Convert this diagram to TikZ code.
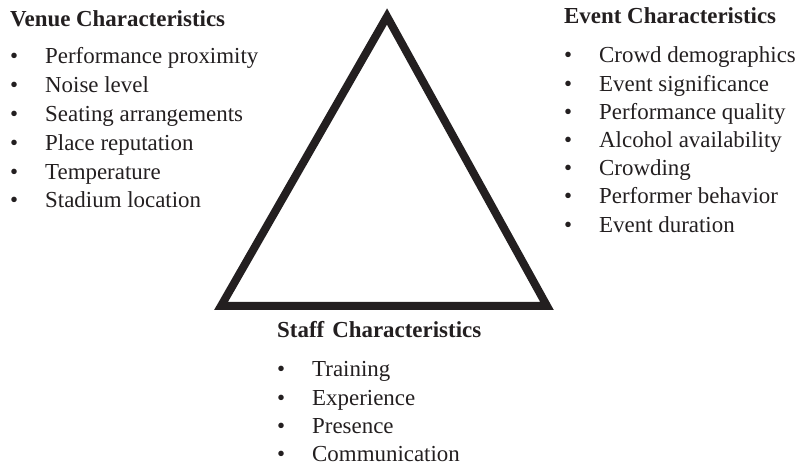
\documentclass[tikz,border=0pt]{standalone}
\usepackage{fontspec}
\setmainfont{Liberation Serif}
\definecolor{ink}{HTML}{231F20}
\newcommand\bulitem[1]{\makebox[35bp][l]{\textbullet}#1}
\begin{document}
\begin{tikzpicture}[x=1bp,y=-1bp,
  head/.style={anchor=base west,inner sep=0pt,font=\fontsize{23}{27}\selectfont\bfseries,text=ink},
  item/.style={anchor=base west,inner sep=0pt,font=\fontsize{23}{28}\selectfont,text=ink},
  tri/.style={draw=ink,line width=8bp,line join=miter}]
\useasboundingbox (0,0) rectangle (801,466);
% triangle
\coordinate (apex) at (387,16.5);
\coordinate (bl) at (221,306);
\coordinate (br) at (547,306);
\draw[tri] (bl) -- (apex) -- (br) -- cycle;
% venue
\node[head] (vh) at (10,27) {Venue Characteristics};
\node[item] (v1) at (10,64) {\bulitem{Performance proximity}};
\node[item] (v2) at (10,92.8) {\bulitem{Noise level}};
\node[item] (v3) at (10,121.6) {\bulitem{Seating arrangements}};
\node[item] (v4) at (10,150.4) {\bulitem{Place reputation}};
\node[item] (v5) at (10,179.2) {\bulitem{Temperature}};
\node[item] (v6) at (10,208) {\bulitem{Stadium location}};
% event
\node[head] (eh) at (564,24) {Event Characteristics};
\node[item] (e1) at (564,63) {\bulitem{Crowd demographics}};
\node[item] (e2) at (564,91.2) {\bulitem{Event significance}};
\node[item] (e3) at (564,119.4) {\bulitem{Performance quality}};
\node[item] (e4) at (564,147.6) {\bulitem{Alcohol availability}};
\node[item] (e5) at (564,175.8) {\bulitem{Crowding}};
\node[item] (e6) at (564,204) {\bulitem{Performer behavior}};
\node[item] (e7) at (564,232.2) {\bulitem{Event duration}};
% staff
\node[head] (sh) at (277,338) {Staff\hspace{0.35em}Characteristics};
\node[item] (s1) at (277,377) {\bulitem{Training}};
\node[item] (s2) at (277,405) {\bulitem{Experience}};
\node[item] (s3) at (277,433) {\bulitem{Presence}};
\node[item] (s4) at (277,461) {\bulitem{Communication}};
\end{tikzpicture}
\end{document}
